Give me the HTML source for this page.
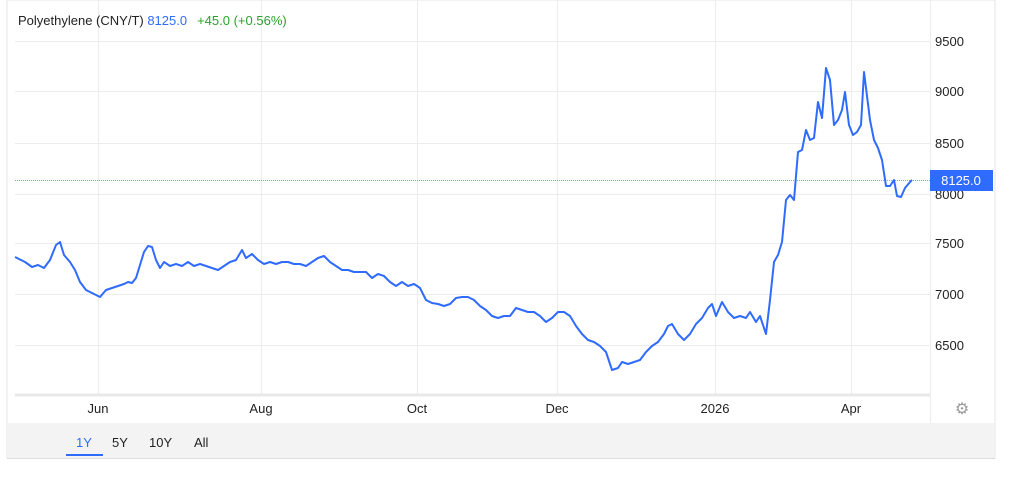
<!DOCTYPE html>
<html><head><meta charset="utf-8"><style>
body{margin:0;background:#fff;width:1024px;height:489px;overflow:hidden;font-family:"Liberation Sans",sans-serif}
</style></head><body>
<svg width="1024" height="489" xmlns="http://www.w3.org/2000/svg" style="position:absolute;left:0;top:0">
<rect x="7" y="0" width="988" height="458" fill="#fff" stroke="#e6e6e6"/>
<rect x="8" y="423" width="986" height="35" fill="#f3f3f3"/>
<line x1="7" y1="458.5" x2="995" y2="458.5" stroke="#ddd"/>
<g stroke="#ececec" stroke-width="1">
<line x1="15" y1="41.5" x2="930" y2="41.5"/><line x1="15" y1="91.5" x2="930" y2="91.5"/>
<line x1="15" y1="143.5" x2="930" y2="143.5"/><line x1="15" y1="194.5" x2="930" y2="194.5"/>
<line x1="15" y1="243.5" x2="930" y2="243.5"/><line x1="15" y1="294.5" x2="930" y2="294.5"/>
<line x1="15" y1="345.5" x2="930" y2="345.5"/>
<line x1="98.5" y1="0" x2="98.5" y2="395"/><line x1="261.5" y1="0" x2="261.5" y2="395"/>
<line x1="417.5" y1="0" x2="417.5" y2="395"/><line x1="557.5" y1="0" x2="557.5" y2="395"/>
<line x1="715.5" y1="0" x2="715.5" y2="395"/><line x1="851.5" y1="0" x2="851.5" y2="395"/>
<line x1="930.5" y1="0" x2="930.5" y2="423"/>
</g>
<line x1="15" y1="395" x2="930" y2="395" stroke="#e8e8e8" stroke-width="3"/>
<line x1="15" y1="180.5" x2="930" y2="180.5" stroke="#7ea0ff" stroke-width="1" stroke-dasharray="1,1"/>
<polyline fill="none" stroke="#2f6bff" stroke-width="2" stroke-linejoin="round" points="15,257 25,262 32,267 38,265 44,268 50,260 56,245 60,242 64,255 70,262 75,270 80,282 86,290 92,293 100,297 106,290 112,288 118,286 124,284 128,282 132,283 136,278 140,265 144,252 148,246 152,247 156,260 160,268 164,262 170,266 176,264 182,266 188,262 194,266 200,264 206,266 212,268 218,270 224,266 230,262 236,260 242,250 246,258 252,254 258,260 264,264 270,262 276,264 282,262 288,262 294,264 300,264 306,266 312,262 318,258 324,256 330,262 336,266 342,270 348,270 354,272 360,272 366,272 372,278 378,274 384,276 390,282 396,286 402,282 408,286 414,284 420,288 426,300 432,303 438,304 444,306 450,304 456,298 462,297 468,297 474,300 480,306 486,310 492,316 498,318 504,316 510,316 516,308 522,310 528,312 534,312 540,316 546,322 552,318 558,312 564,312 570,316 576,326 582,334 588,340 594,342 600,346 606,352 612,370 618,368 622,362 628,364 634,362 640,360 646,352 652,346 658,342 664,334 668,326 672,324 678,334 684,340 690,334 696,324 702,318 708,308 712,304 716,316 722,302 728,312 734,318 740,316 746,318 750,312 756,322 760,316 766,334 770,300 774,262 778,255 782,242 786,200 790,195 794,200 798,152 802,150 806,130 810,140 814,138 818,102 822,118 826,68 830,80 834,125 838,120 842,110 845,92 849,125 853,135 857,132 861,125 864,72 870,120 874,140 878,148 882,160 886,186 890,186 894,180 897,196 901,197 905,188 910,182 912,180"/>
<g font-size="13" fill="#222">
<text x="935" y="46">9500</text><text x="935" y="96">9000</text><text x="935" y="148">8500</text>
<text x="935" y="199">8000</text><text x="935" y="248">7500</text><text x="935" y="299">7000</text><text x="935" y="350">6500</text>
</g>
<rect x="930" y="170" width="63" height="21" fill="#2f6bff"/>
<text x="961" y="185" font-size="13" fill="#fff" text-anchor="middle">8125.0</text>
<g font-size="13" fill="#222" text-anchor="middle">
<text x="98" y="413">Jun</text><text x="261" y="413">Aug</text><text x="417" y="413">Oct</text>
<text x="557" y="413">Dec</text><text x="715" y="413">2026</text><text x="851" y="413">Apr</text>
</g>
<text x="962" y="414" font-size="16" fill="#999" text-anchor="middle">⚙</text>
<text x="18" y="25" font-size="13"><tspan fill="#222">Polyethylene (CNY/T) </tspan><tspan fill="#2f6bff">8125.0</tspan><tspan fill="#2ca02c" dx="10">+45.0 (+0.56%)</tspan></text>
<g font-size="13" fill="#222">
<text x="76" y="447" fill="#2f6bff">1Y</text><text x="112" y="447">5Y</text><text x="149" y="447">10Y</text><text x="194" y="447">All</text>
</g>
<rect x="66" y="454" width="37" height="2" fill="#2f6bff"/>
</svg>
</body></html>
